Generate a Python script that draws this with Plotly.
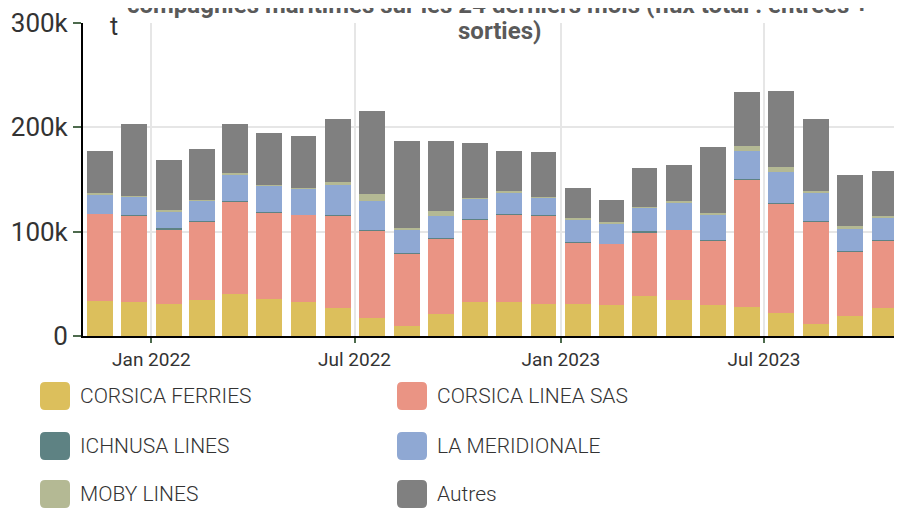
import plotly.graph_objects as go

months = ["2021-11-01", "2021-12-01", "2022-01-01", "2022-02-01", "2022-03-01", "2022-04-01",
          "2022-05-01", "2022-06-01", "2022-07-01", "2022-08-01", "2022-09-01", "2022-10-01",
          "2022-11-01", "2022-12-01", "2023-01-01", "2023-02-01", "2023-03-01", "2023-04-01",
          "2023-05-01", "2023-06-01", "2023-07-01", "2023-08-01", "2023-09-01", "2023-10-01"]

corsica_ferries = [33.5, 33, 30.7, 34.5, 40.3, 35.1, 32.6, 26.8, 17.3, 9.6, 20.8, 32.3,
                   33, 31, 30.7, 29.7, 38.3, 34.5, 29.7, 28.1, 22.4, 11.2, 19.2, 26.5]
corsica_linea = [83.5, 82.3, 71.2, 74.8, 88.8, 83.4, 83.4, 88.5, 83.7, 69.6, 72.8, 79.5,
                 83.6, 84.3, 59.3, 58.5, 60.7, 67.1, 61.7, 122.1, 104.4, 98.4, 61.6, 65.2]
ichnusa = [0.3, 0.5, 1.5, 1.2, 0.3, 0.3, 0.3, 0.3, 0.5, 0.3, 0.3, 0.5,
           0.3, 0.3, 0.3, 0.3, 1.5, 0.3, 0.3, 0.5, 1.0, 0.3, 0.3, 0.3]
la_meridionale = [18, 17.6, 16, 19, 25.3, 25.5, 25.5, 28.7, 27.5, 22.8, 21.1, 19.5,
                  20.8, 16.7, 21.5, 19.8, 23, 25.6, 23.9, 26.6, 29.7, 27.8, 21.4, 21.1]
moby = [1.5, 1, 1, 0.8, 1.3, 0.5, 0.5, 3.6, 7, 1.2, 4.5, 0.5,
        1, 0.5, 1, 1, 0.5, 1.6, 2.3, 5.1, 4.8, 1.6, 2.9, 1.9]
autres = [41, 69, 48, 49, 47.5, 50, 49, 60, 79.2, 83, 67.4, 52.5,
          38.3, 44, 29, 20.7, 37.5, 34.5, 62.9, 51.8, 72.5, 68.7, 49.2, 43.4]

series_names = ["CORSICA FERRIES", "CORSICA LINEA SAS", "ICHNUSA LINES",
                "LA MERIDIONALE", "MOBY LINES", "Autres"]
series_values = [corsica_ferries, corsica_linea, ichnusa, la_meridionale, moby, autres]
colors = ["#dcbf5c", "#ea9484", "#5e8283", "#8fa8d3", "#b4b994", "#808080"]

title_lines_top = ("Évolution du trafic de marchandises des principales<br>"
                   "compagnies maritimes sur les 24 derniers mois (flux total : entrées +")
title_line_last = "sorties)"

fig = go.Figure()
for name, vals, col in zip(series_names, series_values, colors):
    fig.add_trace(go.Bar(
        x=months, y=[v * 1000 for v in vals], name=name,
        xperiod="M1", xperiodalignment="middle",
        width=23 * 86400000,
        marker=dict(color=col, line=dict(width=0)),
        showlegend=False,
    ))

# page has an 8px body margin: figure is sized to fill the 902x508 window
OFF = 8
W, H = 902 - OFF, 508 - OFF
ml, mr, mt, mb = 83 - OFF, 0, 23 - OFF, 172
pw, ph = W - ml - mr, H - mt - mb


def px_x(x):  # page pixel -> paper
    return (x - OFF - ml) / pw


def px_y(y):
    return (H - mb - (y - OFF)) / ph


shapes = []
annotations = []
legend_pos = [(55, 396), (412, 396), (55, 446), (412, 446), (55, 494), (412, 494)]
r = 5
hw, hh = 15, 14
rr = (f"M {-hw + r} {-hh} L {hw - r} {-hh} Q {hw} {-hh} {hw} {-hh + r} "
      f"L {hw} {hh - r} Q {hw} {hh} {hw - r} {hh} L {-hw + r} {hh} "
      f"Q {-hw} {hh} {-hw} {hh - r} L {-hw} {-hh + r} Q {-hw} {-hh} {-hw + r} {-hh} Z")
for (cx, cy), name, col in zip(legend_pos, series_names, colors):
    shapes.append(dict(type="path", xref="paper", yref="paper",
                       xsizemode="pixel", ysizemode="pixel",
                       xanchor=px_x(cx), yanchor=px_y(cy), path=rr,
                       fillcolor=col, line=dict(width=0), layer="above"))
    annotations.append(dict(xref="paper", yref="paper", x=px_x(cx + 23), y=px_y(cy),
                            xanchor="left", yanchor="middle", showarrow=False,
                            text=name, font=dict(family="Roboto", size=21, color="#333333",
                                                 weight=300)))

title_font = dict(family="Roboto", size=24, color="#5a5a5a", weight="bold")
annotations.append(dict(xref="paper", yref="paper", x=px_x(497), y=px_y(21),
                        xanchor="center", yanchor="bottom", showarrow=False,
                        text=title_lines_top, align="center", font=title_font))
annotations.append(dict(xref="paper", yref="paper", x=px_x(499), y=px_y(47),
                        xanchor="center", yanchor="bottom", showarrow=False,
                        text=title_line_last, align="center", font=title_font))
annotations.append(dict(xref="paper", yref="paper", x=px_x(108), y=px_y(26),
                        xanchor="left", yanchor="middle", showarrow=False,
                        text="t", font=dict(family="Roboto", size=25, color="#333333")))

fig.update_layout(
    width=W, height=H,
    margin=dict(l=ml, r=mr, t=mt, b=mb, autoexpand=False),
    barmode="stack",
    plot_bgcolor="white", paper_bgcolor="white",
    shapes=shapes, annotations=annotations,
    xaxis=dict(type="date", range=["2021-11-01", "2023-11-01"],
               tick0="2022-01-01", dtick="M6", tickformat="%b %Y",
               showgrid=True, gridcolor="#e6e6e6", gridwidth=2,
               ticks="outside", ticklen=5, tickwidth=2, tickcolor="#4d6b4d",
               showline=True, linecolor="black", linewidth=2,
               tickfont=dict(family="Roboto", size=19, color="#333333")),
    yaxis=dict(range=[0, 300000], tickvals=[0, 100000, 200000, 300000], tickformat="~s",
               showgrid=True, gridcolor="#e6e6e6", gridwidth=2,
               ticks="outside", ticklen=8, tickwidth=2, tickcolor="#4d6b4d",
               showline=True, linecolor="black", linewidth=2, zeroline=False,
               tickfont=dict(family="Roboto", size=26, color="#333333")),
)

fig.write_html("out.html")
